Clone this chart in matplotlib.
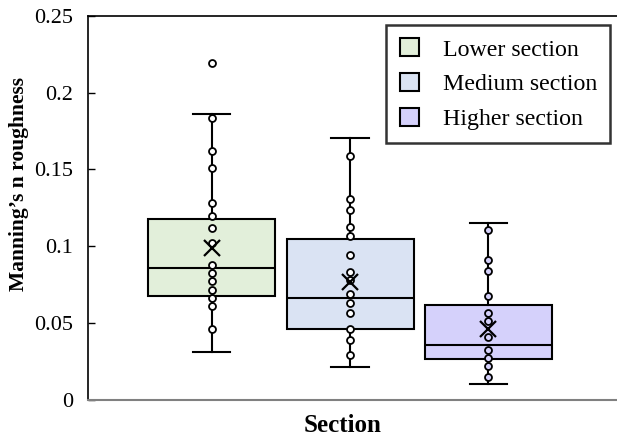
import numpy as np
import matplotlib.pyplot as plt
from matplotlib.patches import Patch

plt.rcParams['font.family'] = ['Liberation Serif', 'DejaVu Serif']

sections = ['Lower section', 'Medium section', 'Higher section']
colors = ['#e2efda', '#dae3f3', '#d5d1fb']
point_faces = ['white', 'white', '#d5d1fb']

# box statistics
q1 = [0.0675, 0.0461, 0.0263]
med = [0.0855, 0.0664, 0.0357]
q3 = [0.1177, 0.1049, 0.0618]
whislo = [0.0309, 0.0211, 0.0104]
whishi = [0.186, 0.1706, 0.1153]
means = [0.099, 0.0766, 0.0461]

# individual points
lower_pts = [0.2195, 0.1832, 0.1623, 0.151, 0.1284, 0.1195, 0.1118, 0.102,
             0.0879, 0.0825, 0.077, 0.0716, 0.0661, 0.0607, 0.0461]
medium_pts = [0.1586, 0.131, 0.1234, 0.1125, 0.1066, 0.0944, 0.0831, 0.0777,
              0.069, 0.0631, 0.0563, 0.0461, 0.039, 0.0287]
higher_pts = [0.1107, 0.0912, 0.0835, 0.0675, 0.0563, 0.0511, 0.0407,
              0.0326, 0.0272, 0.0217, 0.015]
points = [lower_pts, medium_pts, higher_pts]

fig = plt.figure(figsize=(6.17, 4.40), dpi=100)
ax = fig.add_axes([0.1434, 0.092, 0.8566, 0.8716])

pos = [1, 2, 3]
stats = []
for i in range(3):
    stats.append(dict(q1=q1[i], med=med[i], q3=q3[i], whislo=whislo[i],
                      whishi=whishi[i], mean=means[i], fliers=[]))

bp = ax.bxp(stats, positions=pos, widths=0.918, capwidths=0.27,
            patch_artist=True, showmeans=False, showfliers=False,
            boxprops=dict(linewidth=1.5, edgecolor='black'),
            medianprops=dict(color='black', linewidth=1.5),
            whiskerprops=dict(color='black', linewidth=1.5),
            capprops=dict(color='black', linewidth=1.5))
for b, c in zip(bp['boxes'], colors):
    b.set_facecolor(c)

for i in range(3):
    ax.plot([pos[i]] * len(points[i]), points[i], 'o', ms=5.0,
            mfc=point_faces[i], mec='black', mew=1.3, zorder=4)
    ax.plot(pos[i], means[i], 'x', ms=12, mec='black', mew=1.6, zorder=5)

ax.set_xlim(0.109, 3.93)
ax.set_ylim(0, 0.25)
ax.set_yticks([0, 0.05, 0.1, 0.15, 0.2, 0.25])
ax.set_yticklabels(['0', '0.05', '0.1', '0.15', '0.2', '0.25'])
ax.set_xticks([])
ax.tick_params(axis='y', labelsize=16, length=5, width=1, direction='in',
               pad=11)

ax.spines['right'].set_visible(False)
ax.spines['top'].set_linewidth(1.2)
ax.spines['left'].set_linewidth(1.2)
ax.spines['bottom'].set_color('#808080')
ax.spines['bottom'].set_linewidth(1.5)

ax.set_ylabel("Manning\u2019s n roughness", fontsize=15.5, fontweight='bold',
              va='center')
ax.yaxis.set_label_coords(-0.1315, 0.562)
ax.set_xlabel('Section', fontsize=18, fontweight='bold', va='top')
ax.xaxis.set_label_coords(0.4816, -0.038)

handles = [Patch(facecolor=c, edgecolor='black', linewidth=1.5) for c in colors]
leg = ax.legend(handles, sections, loc='upper right', fontsize=17.2,
                frameon=True, fancybox=False, edgecolor='black',
                handlelength=0.8, handleheight=0.8, handletextpad=1.0,
                borderpad=0.55, labelspacing=0.52, borderaxespad=0,
                bbox_to_anchor=(0.9868, 0.9765))
leg.get_frame().set_linewidth(1.8)

fig.savefig('out.png', dpi=100)
